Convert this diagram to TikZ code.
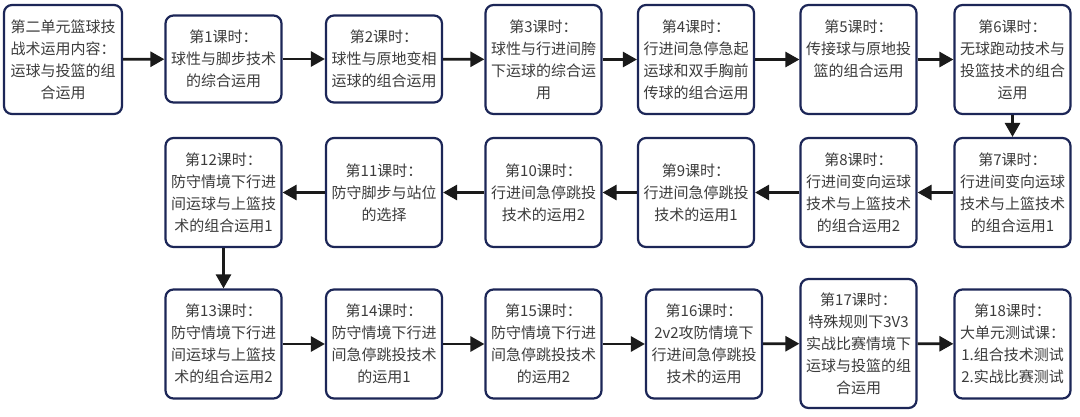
\documentclass[tikz,border=0pt]{standalone}
\usepackage{fontspec}
\setmainfont{Noto Sans CJK SC}
\usepackage{tikz}
\usetikzlibrary{arrows.meta}
\usepackage{xcolor}
\definecolor{clrBoxBd}{HTML}{1C2657}
\definecolor{clrTxt}{HTML}{3C3C3C}
\definecolor{clrFlow}{HTML}{1A1A1A}

\tikzset{
  lesson/.style={rectangle, rounded corners=8pt, draw=clrBoxBd, fill=white,
    line width=2.2pt, text=clrTxt, align=center, text width=110pt,
    inner sep=3pt, minimum height=109pt,
    font=\fontsize{15}{22}\selectfont},
  lessonshort/.style={lesson, minimum height=87pt},
  lessontall/.style={lesson, minimum height=129pt},
  flow/.style={draw=clrFlow, line width=2.8pt,
    -{Triangle[length=14pt, width=15pt]}}
}

\begin{document}
\begin{tikzpicture}[x=1pt, y=-1pt]
  \useasboundingbox[fill=white] (0,0) rectangle (1080,416);
  % row 1
  \node[lesson, text width=112pt] (u0) at (63,59.5)
    {第二单元篮球技\\战术运用内容：\\运球与投篮的组\\合运用};
  \node[lessonshort] (k1) at (223.5,59) {第1课时：\\球性与脚步技术\\的综合运用};
  \node[lessonshort] (k2) at (384,59) {第2课时：\\球性与原地变相\\运球的组合运用};
  \node[lesson] (k3) at (543.5,59.5) {第3课时：\\球性与行进间胯\\下运球的综合运\\用};
  \node[lesson] (k4) at (696,59.5) {第4课时：\\行进间急停急起\\运球和双手胸前\\传球的组合运用};
  \node[lesson] (k5) at (858.5,59.5) {第5课时：\\传接球与原地投\\篮的组合运用\\\mbox{}};
  \node[lesson] (k6) at (1012.5,59.5) {第6课时：\\无球跑动技术与\\投篮技术的组合\\运用};
  % row 2
  \node[lesson] (k7) at (1012.5,192.5) {第7课时：\\行进间变向运球\\技术与上篮技术\\的组合运用1};
  \node[lesson] (k8) at (858.5,192.5) {第8课时：\\行进间变向运球\\技术与上篮技术\\的组合运用2};
  \node[lesson] (k9) at (696,192.5) {第9课时：\\行进间急停跳投\\技术的运用1};
  \node[lesson] (k10) at (543.5,192.5) {第10课时：\\行进间急停跳投\\技术的运用2};
  \node[lesson] (k11) at (384,192.5) {第11课时：\\防守脚步与站位\\的选择};
  \node[lesson] (k12) at (223.5,192.5) {第12课时：\\防守情境下行进\\间运球与上篮技\\术的组合运用1};
  % row 3
  \node[lesson] (k13) at (223.5,344) {第13课时：\\防守情境下行进\\间运球与上篮技\\术的组合运用2};
  \node[lesson] (k14) at (384,344) {第14课时：\\防守情境下行进\\间急停跳投技术\\的运用1};
  \node[lesson] (k15) at (543.5,344) {第15课时：\\防守情境下行进\\间急停跳投技术\\的运用2};
  \node[lesson] (k16) at (704,344) {第16课时：\\2v2攻防情境下\\行进间急停跳投\\技术的运用};
  \node[lessontall] (k17) at (858.5,343.5) {第17课时：\\特殊规则下3V3\\实战比赛情境下\\运球与投篮的组\\合运用};
  \node[lesson] (k18) at (1012.5,344) {第18课时：\\大单元测试课：\\1.组合技术测试\\2.实战比赛测试};
  % connectors
  \draw[flow] (u0) -- (k1);
  \draw[flow] (k1) -- (k2);
  \draw[flow] (k2) -- (k3);
  \draw[flow] (k3) -- (k4);
  \draw[flow] (k4) -- (k5);
  \draw[flow] (k5) -- (k6);
  \draw[flow] (k6) -- (k7);
  \draw[flow] (k7) -- (k8);
  \draw[flow] (k8) -- (k9);
  \draw[flow] (k9) -- (k10);
  \draw[flow] (k10) -- (k11);
  \draw[flow] (k11) -- (k12);
  \draw[flow] (k12) -- (k13);
  \draw[flow] (k13) -- (k14);
  \draw[flow] (k14) -- (k15);
  \draw[flow] (k15) -- (k16);
  \draw[flow] (k16) -- (k17);
  \draw[flow] (k17) -- (k18);
\end{tikzpicture}
\end{document}
